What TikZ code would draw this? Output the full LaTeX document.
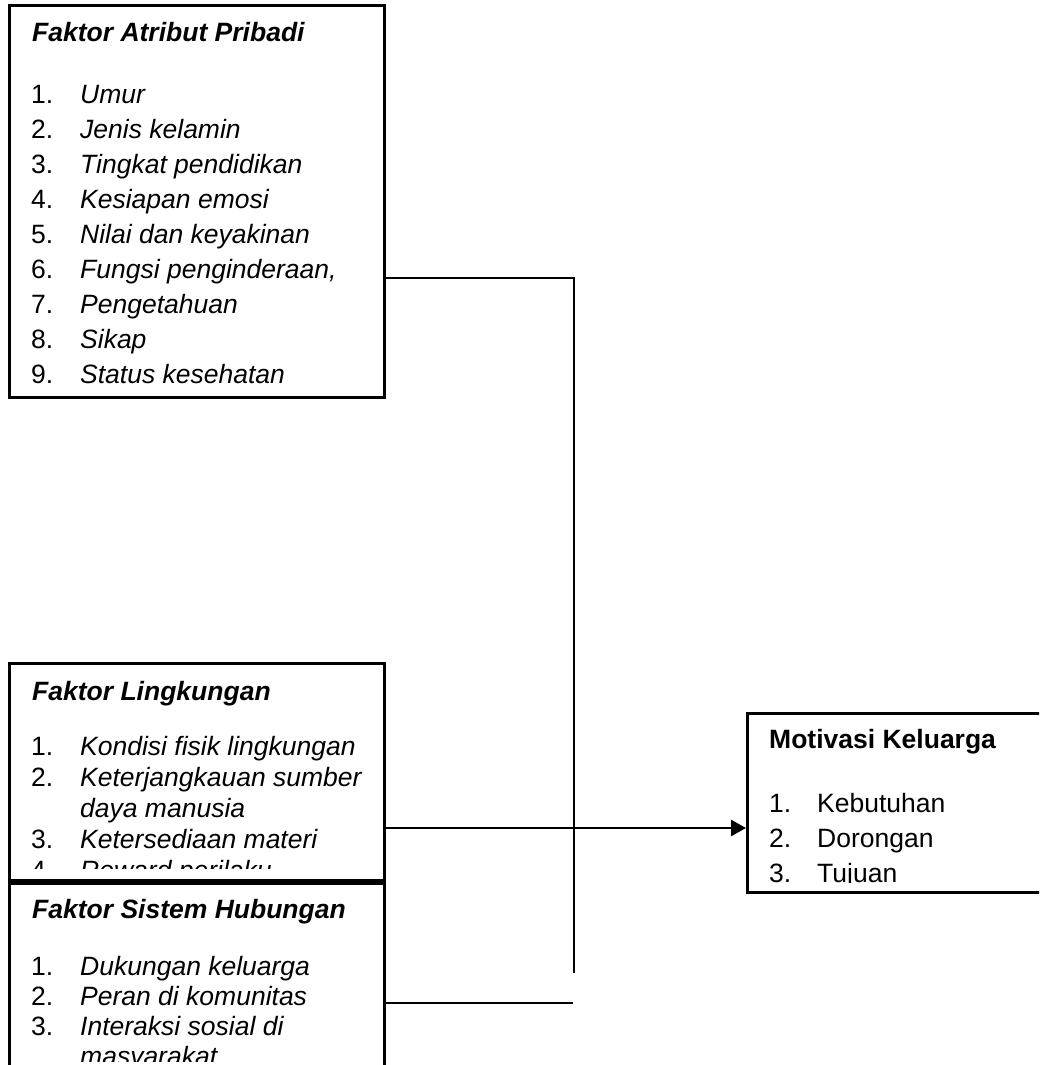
\documentclass[tikz,border=0pt]{standalone}
\usepackage{fontspec}
\setmainfont{Liberation Sans}
\usetikzlibrary{arrows.meta}
\begin{document}
\begin{tikzpicture}[x=1pt,y=-1pt,
  box/.style={draw,line width=3pt,inner sep=0pt,minimum width=375pt},
  txt/.style={anchor=base west,inner sep=0pt,font=\fontsize{26.5}{30}\selectfont},
  ttl/.style={txt,font=\fontsize{26.5}{30}\selectfont\bfseries\itshape},
  itm/.style={txt,font=\fontsize{26.5}{30}\selectfont\itshape},
  conn/.style={line width=2.8pt}]
\clip (0,0) rectangle (1039,1065);
\fill[white] (0,0) rectangle (1039,1065);
% boxes
\node[box,minimum height=391pt] (b1) at (196.5,201.5) {};
\node[box,minimum height=217pt] (b2) at (196.5,771.5) {};
\node[box,minimum height=217pt] (b3) at (196.5,991.5) {};
\node[box,minimum width=313pt,minimum height=179pt] (mk) at (903.5,802.5) {};
% box 1 text
\node[ttl] (t1) at (32,42) {Faktor Atribut Pribadi};
\foreach \n/\t [count=\i] in {1/Umur,2/Jenis kelamin,3/Tingkat pendidikan,4/Kesiapan emosi,5/Nilai dan keyakinan,6/{Fungsi penginderaan,},7/Pengetahuan,8/Sikap,9/Status kesehatan}{
  \node[txt] (n1\i) at (31,{103+35*(\i-1)}) {\n.};
  \node[itm] (i1\i) at (80,{103+35*(\i-1)}) {\t};
}
% box 2 text
\begin{scope}
\clip (9,663) rectangle (384,868);
\node[ttl] (t2) at (32,700) {Faktor Lingkungan};
\node[txt] (n21) at (31,755) {1.};
\node[itm] (i21) at (80,755) {Kondisi fisik lingkungan};
\node[txt] (n22) at (31,786) {2.};
\node[itm] (i22) at (80,786) {Keterjangkauan sumber};
\node[itm] (i22b) at (80,817) {daya manusia};
\node[txt] (n23) at (31,848) {3.};
\node[itm] (i23) at (80,848) {Ketersediaan materi};
\node[txt] (n24) at (31,879) {4.};
\node[itm] (i24) at (80,879) {Reward perilaku};
\end{scope}
% box 3 text
\begin{scope}
\clip (9,883) rectangle (384,1061);
\node[ttl] (t3) at (32,918) {Faktor Sistem Hubungan};
\node[txt] (n31) at (31,975) {1.};
\node[itm] (i31) at (80,975) {Dukungan keluarga};
\node[txt] (n32) at (31,1005) {2.};
\node[itm] (i32) at (80,1005) {Peran di komunitas};
\node[txt] (n33) at (31,1035) {3.};
\node[itm] (i33) at (80,1035) {Interaksi sosial di};
\node[itm] (i33b) at (80,1065) {masyarakat};
\end{scope}
% motivasi text
\begin{scope}
\clip (747,713) rectangle (1039,882.5);
\node[txt,font=\fontsize{26.5}{30}\selectfont\bfseries] (t4) at (769,748) {Motivasi Keluarga};
\node[txt] (n41) at (769,812) {1.};
\node[txt] (i41) at (817,812) {Kebutuhan};
\node[txt] (n42) at (769,847) {2.};
\node[txt] (i42) at (817,847) {Dorongan};
\node[txt] (n43) at (769,882) {3.};
\node[txt] (i43) at (817,882) {Tujuan};
\end{scope}
% connectors
\coordinate (jt) at (574,278);
\coordinate (jb) at (574,973);
\coordinate (ar) at (746,828);
\coordinate (e3) at (573,1003);
\draw[conn] (b1.east |- jt) -- (jt) -- (jb);
\draw[conn,-{Triangle[length=15pt,width=16pt]}] (b2.east |- ar) -- (ar);
\draw[conn] (b3.east |- e3) -- (e3);
\end{tikzpicture}
\end{document}
